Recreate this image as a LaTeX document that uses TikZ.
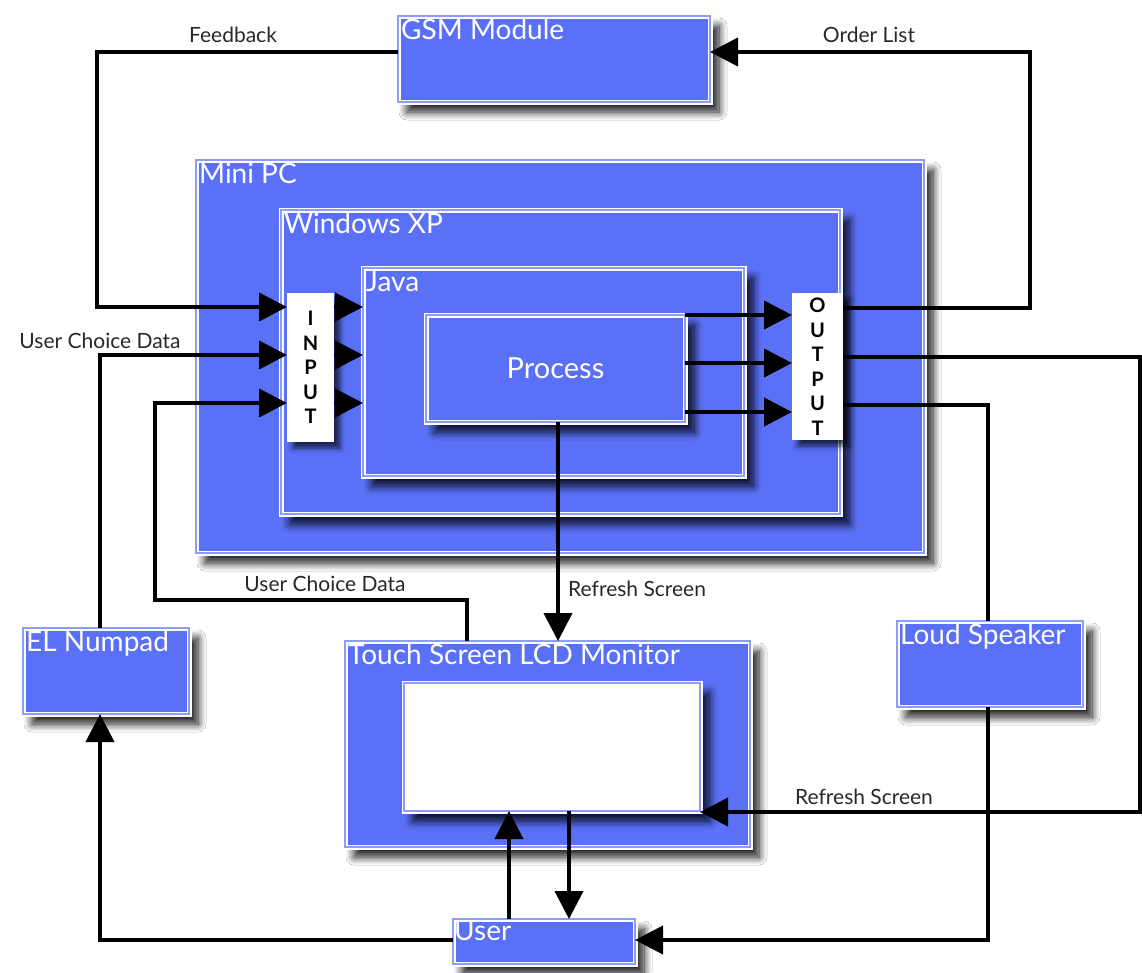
\documentclass[tikz,border=0pt]{standalone}
\usepackage{fontspec}
\setmainfont{Lato}
\usetikzlibrary{shadows.blur,arrows.meta}
\definecolor{boxblue}{RGB}{90,112,247}
\definecolor{boxline}{RGB}{140,158,250}
\definecolor{labelgray}{RGB}{40,40,40}
\begin{document}
\begin{tikzpicture}[x=1pt,y=-1pt,
  blk/.style={rectangle, fill=boxblue, draw=white, double=boxline, line width=1.4pt, double distance=2.2pt,
    outer sep=0pt, inner sep=0pt, anchor=north west,
    blur shadow={shadow xshift=9pt, shadow yshift=-10pt, shadow blur radius=8pt, shadow blur steps=12, shadow opacity=90}},
  scr/.style={blk, fill=white},
  ttl/.style={anchor=north west, inner sep=3pt, text=white, font=\fontsize{28}{30}\selectfont},
  lbl/.style={text=labelgray, font=\fontsize{21}{23}\selectfont, inner sep=0pt},
  arr/.style={line width=4pt, line join=miter, -{Triangle[length=28pt,width=28pt]}},
  ln/.style={line width=4pt},
  stripbox/.style={rectangle, fill=white, draw=none, inner sep=0pt, outer sep=0pt, align=center,
    font=\fontsize{20}{24.5}\selectfont\bfseries,
    blur shadow={shadow xshift=6pt, shadow yshift=-6pt, shadow blur radius=5pt, shadow opacity=70}}]
\useasboundingbox[fill=white] (0,0) rectangle (1142,972);

% boxes
\node[blk, minimum width=312, minimum height=86, label={[ttl]north west:GSM Module}] (gsm) at (398,16) {};
\node[blk, minimum width=728, minimum height=393, label={[ttl]north west:Mini PC}] (minipc) at (196,160) {};
\node[blk, minimum width=559, minimum height=304, label={[ttl]north west:Windows XP}] (winxp) at (281,210) {};
\node[blk, minimum width=381, minimum height=208, label={[ttl]north west:Java}] (java) at (363,268) {};
\node[blk, minimum width=259, minimum height=107, font=\fontsize{29}{31}\selectfont, text=white] (proc) at (426,315) {Process};
\node[stripbox, minimum width=47, minimum height=149] (inp) at (310.5,367.5) {I\\N\\P\\U\\T};
\node[stripbox, minimum width=51, minimum height=147] (outp) at (817.5,366.5) {O\\U\\T\\P\\U\\T};

\node[blk, minimum width=166, minimum height=86, label={[ttl]north west:EL Numpad}] (elnum) at (23,628) {};
\node[blk, minimum width=405, minimum height=206, label={[ttl]north west:Touch Screen LCD Monitor}] (touch) at (345,641) {};
\node[scr, minimum width=296, minimum height=128] (screen) at (404,683) {};
\node[blk, minimum width=186, minimum height=86, label={[ttl]north west:Loud Speaker}] (speaker) at (897,621) {};
\node[blk, minimum width=182, minimum height=45, label={[ttl, inner sep=1pt]north west:User}] (user) at (453,919) {};

% connectors
\draw[arr] (gsm.west |- 0,52) -- (97,52) -- (97,307) -- (inp.west |- 0,307);
\draw[arr] (outp.east |- 0,308) -- (1030,308) -- (1030,52) -- (gsm.east |- 0,52);
\draw[arr] (elnum.north -| 100,0) -- (100,355) -- (inp.west |- 0,355);
\draw[arr] (touch.north -| 467,0) -- (467,600) -- (155,600) -- (155,403) -- (inp.west |- 0,403);
\draw[arr] (inp.east |- 0,307) -- (java.west |- 0,307);
\draw[arr] (inp.east |- 0,355) -- (java.west |- 0,355);
\draw[arr] (inp.east |- 0,403) -- (java.west |- 0,403);
\draw[arr] (proc.east |- 0,315) -- (outp.west |- 0,315);
\draw[arr] (proc.east |- 0,363) -- (outp.west |- 0,363);
\draw[arr] (proc.east |- 0,412) -- (outp.west |- 0,412);
\draw[arr] (proc.south -| 558,0) -- (touch.north -| 558,0);
\draw[arr] (outp.east |- 0,357) -- (1140,357) -- (1140,812) -- (screen.east |- 0,812);
\draw[ln] (outp.east |- 0,405) -- (988,405) -- (speaker.north -| 988,0);
\draw[arr] (speaker.south -| 988,0) -- (988,940) -- (user.east |- 0,940);
\draw[arr] (user.north -| 509,0) -- (screen.south -| 509,0);
\draw[arr] (screen.south -| 569,0) -- (user.north -| 569,0);
\draw[arr] (user.west |- 0,940) -- (100,940) -- (elnum.south -| 100,0);

% connector labels
\node[lbl] (lfb) at (233,35) {Feedback};
\node[lbl] (lol) at (869,35) {Order List};
\node[lbl] (luc1) at (100,341) {User Choice Data};
\node[lbl] (luc2) at (325,584) {User Choice Data};
\node[lbl, anchor=west] (lrs1) at (568,589) {Refresh Screen};
\node[lbl] (lrs2) at (864,797) {Refresh Screen};
\end{tikzpicture}
\end{document}
